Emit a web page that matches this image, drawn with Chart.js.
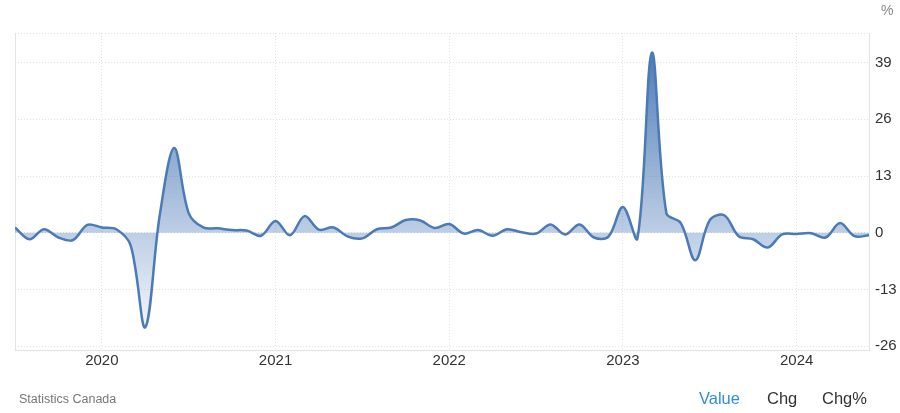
<!DOCTYPE html>
<html><head><meta charset="utf-8">
<script src="https://cdn.jsdelivr.net/npm/chart.js@4"></script>
<style>
html,body{margin:0;padding:0;background:#fff;}
#wrap{position:relative;width:900px;height:413px;font-family:"Liberation Sans",Arial,sans-serif;overflow:hidden;}
canvas{position:absolute;left:0;top:0;}
.t{position:absolute;white-space:nowrap;}
</style></head>
<body>
<div id="wrap">
<canvas id="c" width="900" height="413"></canvas>
<div class="t" style="left:19px;top:392px;font-size:12.5px;color:#777;">Statistics Canada</div>
<div class="t" style="left:881px;top:2px;font-size:14px;color:#888;">%</div>
<div class="t" style="left:699px;top:389px;font-size:16.5px;color:#2f8fd5;">Value</div>
<div class="t" style="left:767px;top:389px;font-size:16.5px;color:#333;">Chg</div>
<div class="t" style="left:822px;top:389px;font-size:16.5px;color:#333;">Chg%</div>
</div>
<script>
const months = [
 "2019-07","2019-08","2019-09","2019-10","2019-11","2019-12",
 "2020-01","2020-02","2020-03","2020-04","2020-05","2020-06","2020-07","2020-08","2020-09","2020-10","2020-11","2020-12",
 "2021-01","2021-02","2021-03","2021-04","2021-05","2021-06","2021-07","2021-08","2021-09","2021-10","2021-11","2021-12",
 "2022-01","2022-02","2022-03","2022-04","2022-05","2022-06","2022-07","2022-08","2022-09","2022-10","2022-11","2022-12",
 "2023-01","2023-02","2023-03","2023-04","2023-05","2023-06","2023-07","2023-08","2023-09","2023-10","2023-11","2023-12",
 "2024-01","2024-02","2024-03","2024-04","2024-05","2024-06"
];
const values = [
 1.2,-1.5,0.8,-1.1,-1.7,1.8,
 1.2,0.8,-3.0,-21.7,4.0,19.4,4.5,1.2,1.0,0.6,0.5,-0.7,
 2.7,-0.6,3.8,0.7,1.2,-0.9,-1.3,0.8,1.2,2.9,2.8,1.1,
 2.0,-0.2,0.6,-0.7,0.8,0.1,-0.2,1.9,-0.4,1.9,-1.1,-0.9,
 5.9,-1.3,41.3,4.5,2.2,-6.3,2.9,4.0,-0.8,-1.5,-3.4,-0.4,
 -0.3,-0.1,-1.1,2.2,-0.8,-0.6
];
const yTicks = [-26,-13,0,13,26,39];
const xYears = [2020,2021,2022,2023,2024];

const toX = m => { const [y,mo] = m.split("-").map(Number); return y + (mo-1)/12; };
const pts = months.map((m,i)=>({x:toX(m), y:values[i]}));
const xMin = toX(months[0]), xMax = toX(months[months.length-1]);
const yMin = -26.9, yMax = 45.8;

const gridColor = '#e2e2e2';
const fontFam = '"Liberation Sans",Arial,sans-serif';
new Chart(document.getElementById('c'), {
  type:'line',
  data:{datasets:[{
    data:pts,
    borderColor:'#4b7ab5',
    borderWidth:2.5,
    pointRadius:0,
    tension:0.35,
    fill:'origin',
    backgroundColor:(ctx)=>{
      const ca = ctx.chart.chartArea;
      if(!ca) return 'rgba(77,124,182,0.4)';
      const g = ctx.chart.ctx.createLinearGradient(0,ca.top,0,ca.bottom);
      g.addColorStop(0,'rgba(60,110,178,0.97)');
      g.addColorStop(1,'rgba(77,124,182,0.0)');
      return g;
    }
  }]},
  options:{
    responsive:false,animation:false,
    layout:{padding:{left:15,top:33,right:0,bottom:0}},
    plugins:{legend:{display:false},tooltip:{enabled:false}},
    scales:{
      x:{type:'linear',min:xMin,max:xMax,
        afterBuildTicks:(s)=>{s.ticks=[{value:xMin}].concat(xYears.map(v=>({value:v})));},
        afterFit:(s)=>{s.height=63;},
        ticks:{color:'#333',font:{family:fontFam,size:15},padding:2,maxRotation:0,autoSkip:false,
          callback:(v)=>xYears.includes(v)?String(v):''},
        grid:{color:gridColor,drawTicks:false,lineWidth:1},
        border:{display:true,color:'#dcdcdc',dash:[1,2]}
      },
      y:{position:'right',min:yMin,max:yMax,
        afterBuildTicks:(s)=>{s.ticks=yTicks.map(v=>({value:v})).concat([{value:yMax}]);},
        afterFit:(s)=>{s.width=31;},
        ticks:{color:'#333',font:{family:fontFam,size:15},padding:6,
          callback:(v)=>yTicks.includes(v)?String(v):''},
        grid:{color:gridColor,drawTicks:false,lineWidth:1},
        border:{display:true,color:'#dcdcdc',dash:[1,2]}
      }
    }
  },
  plugins:[{
    id:'frame',
    beforeDatasetsDraw(chart){
      const {ctx, chartArea:ca} = chart;
      ctx.save();
      ctx.setLineDash([]);
      ctx.strokeStyle='#e4e4e4';
      ctx.lineWidth=1;
      ctx.beginPath();
      ctx.moveTo(ca.left+0.5, ca.top); ctx.lineTo(ca.left+0.5, ca.bottom);
      ctx.moveTo(ca.left, ca.bottom+0.5); ctx.lineTo(ca.right, ca.bottom+0.5);
      ctx.moveTo(ca.right+0.5, ca.top); ctx.lineTo(ca.right+0.5, ca.bottom);
      ctx.stroke();
      ctx.restore();
    }
  }]
});
</script>
</body></html>
